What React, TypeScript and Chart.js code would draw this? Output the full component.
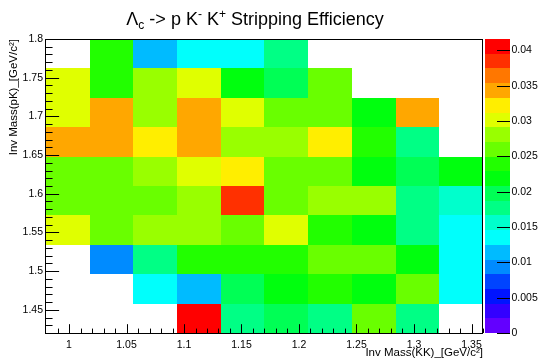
import React, { useEffect, useRef } from "react";
import { Chart, registerables } from "chart.js";

Chart.register(...registerables);

// ---- data ----
// Bin edges of Inv Mass(KK) (x) and Inv Mass(pK) (y), GeV/c^2
const massKKEdges = [0.98, 1.018, 1.056, 1.094, 1.132, 1.17, 1.208, 1.246, 1.284, 1.322, 1.36];
const massPKEdges = [1.42, 1.458, 1.496, 1.534, 1.572, 1.61, 1.648, 1.686, 1.724, 1.762, 1.8];

// Stripping efficiency per Inv Mass(pK) row (bottom to top), one value per Inv Mass(KK) bin; 0 = empty
const effRow01 = [0, 0, 0, 0.0416, 0.0177, 0.0198, 0.0177, 0.026, 0.0177, 0];
const effRow02 = [0, 0, 0.0135, 0.0114, 0.0198, 0.0218, 0.0239, 0.0218, 0.026, 0.0135];
const effRow03 = [0, 0.0094, 0.0177, 0.0239, 0.0239, 0.0239, 0.026, 0.026, 0.0218, 0.0135];
const effRow04 = [0.0302, 0.026, 0.0281, 0.0281, 0.026, 0.0302, 0.0239, 0.0218, 0.0177, 0.0135];
const effRow05 = [0.026, 0.026, 0.026, 0.0281, 0.0385, 0.026, 0.0281, 0.0281, 0.0177, 0.0156];
const effRow06 = [0.026, 0.026, 0.0281, 0.0302, 0.0323, 0.026, 0.026, 0.0218, 0.0198, 0.0218];
const effRow07 = [0.0343, 0.0343, 0.0323, 0.0343, 0.0281, 0.0281, 0.0323, 0.0239, 0.0177, 0];
const effRow08 = [0.0302, 0.0343, 0.0281, 0.0343, 0.0302, 0.026, 0.026, 0.0218, 0.0343, 0];
const effRow09 = [0.0302, 0.0239, 0.0281, 0.0302, 0.0218, 0.0198, 0.026, 0, 0, 0];
const effRow10 = [0, 0.0239, 0.0114, 0.0135, 0.0135, 0.0177, 0, 0, 0, 0];
const effRows = [effRow01, effRow02, effRow03, effRow04, effRow05, effRow06, effRow07, effRow08, effRow09, effRow10];

const massKKTicks = [1, 1.05, 1.1, 1.15, 1.2, 1.25, 1.3, 1.35];
const massKKTickLabels = ["1", "1.05", "1.1", "1.15", "1.2", "1.25", "1.3", "1.35"];
const massPKTicks = [1.45, 1.5, 1.55, 1.6, 1.65, 1.7, 1.75, 1.8];
const massPKTickLabels = ["1.45", "1.5", "1.55", "1.6", "1.65", "1.7", "1.75", "1.8"];
const effTicks = [0, 0.005, 0.01, 0.015, 0.02, 0.025, 0.03, 0.035, 0.04];
const effTickLabels = ["0", "0.005", "0.01", "0.015", "0.02", "0.025", "0.03", "0.035", "0.04"];
const effMax = 0.0416;
const nContours = 20;

const FONT = "'Liberation Sans', Arial, Helvetica, sans-serif";

function effColor(v: number): string {
  let k = Math.floor((v / effMax) * nContours);
  if (k >= nContours) k = nContours - 1;
  if (k < 0) k = 0;
  const idx = Math.floor(((k + 0.99) * 50) / nContours);
  const hue = 280 - (idx + 1) * 5.6;
  return `hsl(${hue}, 100%, 50%)`;
}

function minorValues(from: number, to: number, step: number): number[] {
  const out: number[] = [];
  const n = Math.round((to - from) / step);
  for (let i = 0; i <= n; i++) out.push(Math.round((from + i * step) * 1000) / 1000);
  return out;
}

function zeroPad(s: any) {
  s.paddingTop = 0;
  s.paddingBottom = 0;
  s.paddingLeft = 0;
  s.paddingRight = 0;
}

const heatmapPlugin = {
  id: "heatmap",
  beforeDatasetsDraw(chart: any) {
    const { ctx } = chart;
    const x = chart.scales.x;
    const y = chart.scales.y;
    ctx.save();
    effRows.forEach((row, j) => {
      row.forEach((v, i) => {
        if (v <= 0) return;
        const x0 = Math.round(x.getPixelForValue(massKKEdges[i]));
        const x1 = Math.round(x.getPixelForValue(massKKEdges[i + 1]));
        const y0 = Math.round(y.getPixelForValue(massPKEdges[j + 1]));
        const y1 = Math.round(y.getPixelForValue(massPKEdges[j]));
        ctx.fillStyle = effColor(v);
        ctx.fillRect(x0, y0, x1 - x0, y1 - y0);
      });
    });
    ctx.restore();
  },
};

const decorPlugin = {
  id: "decor",
  afterDraw(chart: any) {
    const { ctx, chartArea } = chart;
    const x = chart.scales.x;
    const y = chart.scales.y;
    const z = chart.scales.z;
    const { left, right, top, bottom } = chartArea;
    ctx.save();
    ctx.strokeStyle = "#000";
    ctx.lineWidth = 1;

    // inward ticks
    const h = bottom - top;
    const w = right - left;
    const xMajor = 0.03 * h;
    const yMajor = 0.03 * w;
    ctx.beginPath();
    minorValues(0.99, 1.36, 0.01).forEach((v) => {
      const px = Math.round(x.getPixelForValue(v)) + 0.5;
      const isMajor = massKKTicks.some((t) => Math.abs(t - v) < 1e-6);
      const len = isMajor ? xMajor : xMajor / 2;
      ctx.moveTo(px, bottom);
      ctx.lineTo(px, bottom - len);
    });
    minorValues(1.43, 1.8, 0.01).forEach((v) => {
      const py = Math.round(y.getPixelForValue(v)) + 0.5;
      const isMajor = massPKTicks.some((t) => Math.abs(t - v) < 1e-6);
      const len = isMajor ? yMajor : yMajor / 2;
      ctx.moveTo(left, py);
      ctx.lineTo(left + len, py);
    });
    ctx.stroke();

    // frame
    ctx.strokeRect(Math.round(left) - 0.5, Math.round(top) + 0.5, Math.round(w), Math.round(h));

    // colour bar
    const barL = Math.round(z.left + 2);
    const barR = Math.round(z.left + 27);
    for (let k = 0; k < nContours; k++) {
      const lo = (k * effMax) / nContours;
      const hi = ((k + 1) * effMax) / nContours;
      const y0 = Math.round(z.getPixelForValue(hi));
      const y1 = Math.round(z.getPixelForValue(lo));
      ctx.fillStyle = effColor((lo + hi) / 2);
      ctx.fillRect(barL, y0, barR - barL, y1 - y0);
    }
    ctx.beginPath();
    effTicks.forEach((t) => {
      const py = Math.round(z.getPixelForValue(t)) + 0.5;
      ctx.moveTo(barR, py);
      ctx.lineTo(barR - 13, py);
    });
    ctx.stroke();

    // title with sub/superscripts
    const runs = [
      { t: "\u039B", s: 0 },
      { t: "c", s: 1 },
      { t: " -> p K", s: 0 },
      { t: "-", s: 2 },
      { t: " K", s: 0 },
      { t: "+", s: 2 },
      { t: " Stripping Efficiency", s: 0 },
    ];
    const big = 18;
    const small = 12;
    let total = 0;
    runs.forEach((r) => {
      ctx.font = `${r.s === 0 ? big : small}px ${FONT}`;
      total += ctx.measureText(r.t).width;
    });
    let cx = 255 - total / 2;
    const base = 25;
    ctx.fillStyle = "#000";
    ctx.textBaseline = "alphabetic";
    ctx.textAlign = "left";
    runs.forEach((r) => {
      ctx.font = `${r.s === 0 ? big : small}px ${FONT}`;
      const dy = r.s === 1 ? 4 : r.s === 2 ? -7 : 0;
      ctx.fillText(r.t, cx, base + dy);
      cx += ctx.measureText(r.t).width;
    });
    ctx.restore();
  },
};

export default function App() {
  const ref = useRef<HTMLCanvasElement>(null);
  useEffect(() => {
    document.body.style.margin = "0";
    const canvas = ref.current!;
    const cells: { x: number; y: number; v: number }[] = [];
    effRows.forEach((row, j) =>
      row.forEach((v, i) => {
        if (v > 0)
          cells.push({
            x: (massKKEdges[i] + massKKEdges[i + 1]) / 2,
            y: (massPKEdges[j] + massPKEdges[j + 1]) / 2,
            v,
          });
      })
    );
    const tickFont = { family: FONT, size: 10.5 };
    const chart = new Chart(canvas, {
      type: "scatter",
      data: {
        datasets: [
          {
            label: "Stripping Efficiency",
            data: cells,
            pointRadius: 0,
            pointHoverRadius: 0,
            showLine: false,
          },
        ],
      },
      options: {
        animation: false,
        responsive: false,
        devicePixelRatio: 1,
        events: [],
        layout: { padding: { top: 39, left: 0, right: 0, bottom: 0 } },
        plugins: { legend: { display: false }, tooltip: { enabled: false }, title: { display: false } },
        scales: {
          x: {
            type: "linear",
            position: "bottom",
            min: 0.98,
            max: 1.36,
            grid: { display: false, drawTicks: false },
            border: { display: false },
            afterBuildTicks: (s: any) => {
              s.ticks = massKKTicks.map((v) => ({ value: v }));
            },
            afterFit: (s: any) => {
              s.height = 29;
              zeroPad(s);
            },
            ticks: {
              autoSkip: false,
              maxRotation: 0,
              padding: 6,
              color: "#000",
              font: tickFont,
              callback: (_v: any, i: number) => massKKTickLabels[i],
            },
            title: {
              display: true,
              text: "Inv Mass(KK)_[GeV/c\u00B2]",
              align: "end",
              color: "#000",
              font: { family: FONT, size: 11.5 },
              padding: { top: 0, bottom: 2 },
            },
          },
          y: {
            type: "linear",
            position: "left",
            min: 1.42,
            max: 1.8,
            grid: { display: false, drawTicks: false },
            border: { display: false },
            afterBuildTicks: (s: any) => {
              s.ticks = massPKTicks.map((v) => ({ value: v }));
            },
            afterFit: (s: any) => {
              s.width = 46;
              zeroPad(s);
            },
            ticks: {
              autoSkip: false,
              padding: 3,
              color: "#000",
              font: tickFont,
              callback: (_v: any, i: number) => massPKTickLabels[i],
            },
            title: {
              display: true,
              text: "Inv Mass(pK)_[GeV/c\u00B2]",
              align: "end",
              color: "#000",
              font: { family: FONT, size: 11.5 },
              padding: { top: 7, bottom: 0 },
            },
          },
          z: {
            type: "linear",
            axis: "y",
            position: "right",
            min: 0,
            max: effMax,
            grid: { display: false, drawTicks: false },
            border: { display: false },
            afterBuildTicks: (s: any) => {
              s.ticks = effTicks.map((v) => ({ value: v }));
            },
            afterFit: (s: any) => {
              s.width = 55;
              zeroPad(s);
            },
            ticks: {
              autoSkip: false,
              padding: 28.5,
              color: "#000",
              font: { family: FONT, size: 10.5 },
              callback: (_v: any, i: number) => effTickLabels[i],
            },
          },
        },
      } as any,
      plugins: [heatmapPlugin, decorPlugin],
    });
    return () => chart.destroy();
  }, []);
  return <canvas ref={ref} width={538} height={362} style={{ display: "block", width: 538, height: 362 }} />;
}
